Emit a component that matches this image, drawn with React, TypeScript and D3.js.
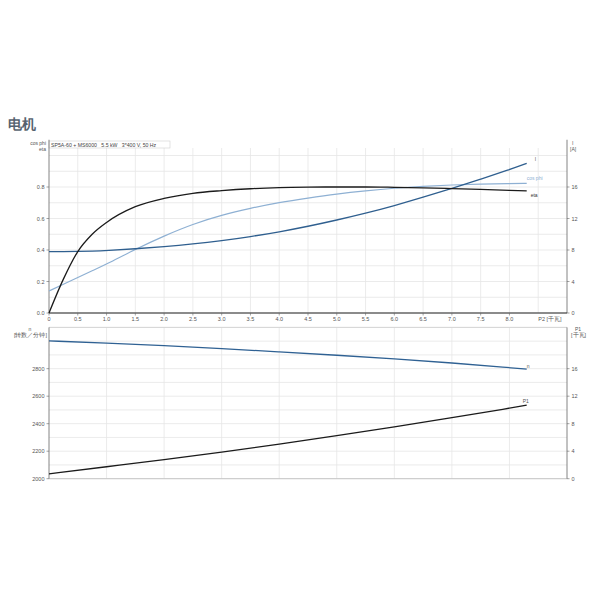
import React from "react";
import * as d3 from "d3";

// ---- data ----
const p2Top = [0, 0.25, 0.5, 0.75, 1.0, 1.5, 2.0, 2.5, 3.0, 3.5, 4.0, 4.5, 5.0, 5.5, 6.0, 6.5, 7.0, 7.5, 8.0, 8.3];
const etaValues = [0, 0.215, 0.39, 0.5, 0.575, 0.675, 0.728, 0.76, 0.777, 0.789, 0.796, 0.799, 0.8, 0.8, 0.798, 0.795, 0.79, 0.785, 0.779, 0.776];
const cosPhiValues = [0.14, 0.182, 0.225, 0.268, 0.31, 0.405, 0.49, 0.565, 0.622, 0.665, 0.702, 0.73, 0.756, 0.776, 0.793, 0.805, 0.813, 0.819, 0.822, 0.823];
const currentValues = [7.8, 7.8, 7.82, 7.86, 7.93, 8.15, 8.42, 8.76, 9.18, 9.69, 10.3, 11.0, 11.8, 12.66, 13.63, 14.69, 15.83, 17.0, 18.2, 19.0];

const p2Bottom = [0, 1, 2, 3, 4, 5, 6, 7, 8, 8.3];
const speedValues = [3002, 2986, 2968, 2946, 2922, 2898, 2872, 2842, 2808, 2796];
const p1Values = [0.7, 1.74, 2.76, 3.85, 5.02, 6.25, 7.52, 8.87, 10.25, 10.7];

const xTicks = [0, 0.5, 1, 1.5, 2, 2.5, 3, 3.5, 4, 4.5, 5, 5.5, 6, 6.5, 7, 7.5, 8];
const xTickLabels = ["0", "0.5", "1.0", "1.5", "2.0", "2.5", "3.0", "3.5", "4.0", "4.5", "5.0", "5.5", "6.0", "6.5", "7.0", "7.5", "8.0"];
const leftTopTicks = [0, 0.2, 0.4, 0.6, 0.8];
const rightTicks = [0, 4, 8, 12, 16];
const leftBottomTicks = [2000, 2200, 2400, 2600, 2800];

const titleText = "电机";
const boxText = "SP5A-60 + MS6000   5.5 kW   3*400 V, 50 Hz";

const FONT = "'Liberation Sans', Arial, sans-serif";
const TICK_COLOR = "#555";
const GRID = "#e6e6e6";
const AXIS = "#666";

export default function App() {
  const left = 49;
  const right = 567;
  const x = d3.scaleLinear().domain([0, 9]).range([left, right]);

  // top chart
  const topY0 = 313;
  const topY1 = 139.75;
  const yL = d3.scaleLinear().domain([0, 1.1]).range([topY0, topY1]);
  const yR = d3.scaleLinear().domain([0, 22]).range([topY0, topY1]);

  // bottom chart
  const botY0 = 478.7;
  const botY1 = 327.4;
  const yN = d3.scaleLinear().domain([2000, 3100]).range([botY0, botY1]);
  const yP = d3.scaleLinear().domain([0, 22]).range([botY0, botY1]);

  const mk = (xs: number[], ys: number[], ys2: (v: number) => number, curve: d3.CurveFactory) =>
    d3
      .line<number>()
      .x((_, i) => x(xs[i]))
      .y((v) => ys2(v))
      .curve(curve)(ys) as string;

  const etaPath = mk(p2Top, etaValues, yL, d3.curveMonotoneX);
  const cosPath = mk(p2Top, cosPhiValues, yL, d3.curveBasis);
  const iPath = mk(p2Top, currentValues, yR, d3.curveBasis);
  const nPath = mk(p2Bottom, speedValues, yN, d3.curveBasis);
  const p1Path = mk(p2Bottom, p1Values, yP, d3.curveBasis);

  const topGridY = d3.range(0, 11).map((i) => i * 0.1);
  const botGridY = d3.range(2000, 3101, 100);
  const topGridX = d3.range(0.5, 9, 0.5);
  const botGridX = d3.range(1, 9, 1);

  const last = p2Top.length - 1;
  const lastB = p2Bottom.length - 1;
  const fs = 5.5;

  return (
    <svg width={600} height={600} style={{ display: "block", position: "absolute", left: 0, top: 0 }} fontFamily={FONT}>
      <rect x={0} y={0} width={600} height={600} fill="#fff" />
      <text x={8} y={129} fontSize={14} fontWeight="bold" fill="#56626f">
        {titleText}
      </text>

      {/* ---- top chart grid ---- */}
      {topGridY.map((v) => (
        <line key={"tg" + v} x1={left} x2={right} y1={yL(v)} y2={yL(v)} stroke={GRID} strokeWidth={0.8} />
      ))}
      {topGridX.map((v) => (
        <line key={"tgx" + v} x1={x(v)} x2={x(v)} y1={topY0} y2={148} stroke={GRID} strokeWidth={0.8} />
      ))}

      {/* ---- bottom chart grid ---- */}
      {botGridY.map((v) => (
        <line key={"bg" + v} x1={left} x2={right} y1={yN(v)} y2={yN(v)} stroke={GRID} strokeWidth={0.8} />
      ))}
      {botGridX.map((v) => (
        <line key={"bgx" + v} x1={x(v)} x2={x(v)} y1={botY0} y2={botY1} stroke={GRID} strokeWidth={0.8} />
      ))}
      <line x1={left} x2={right} y1={botY1} y2={botY1} stroke="#cfcfcf" strokeWidth={0.8} />
      <line x1={left} x2={right} y1={botY0} y2={botY0} stroke="#bbb" strokeWidth={0.8} />

      {/* ---- title box ---- */}
      <rect x={left} y={141} width={121} height={7} fill="#fff" stroke="#cfcfcf" strokeWidth={0.6} />
      <text x={51} y={146.6} fontSize={5.2} fill="#444" style={{ whiteSpace: "pre" }}>
        {boxText}
      </text>

      {/* ---- top axes ---- */}
      <line x1={left} x2={left} y1={topY1} y2={topY0} stroke={AXIS} strokeWidth={0.8} />
      <line x1={right} x2={right} y1={topY1} y2={topY0} stroke={AXIS} strokeWidth={0.8} />
      <line x1={left} x2={right} y1={topY0} y2={topY0} stroke="#222" strokeWidth={1.2} />
      {leftTopTicks.map((v) => (
        <g key={"lt" + v}>
          <line x1={left - 2.5} x2={left} y1={yL(v)} y2={yL(v)} stroke={AXIS} strokeWidth={0.6} />
          <text x={left - 4.5} y={yL(v) + 2} fontSize={fs} textAnchor="end" fill={TICK_COLOR}>
            {v.toFixed(1)}
          </text>
        </g>
      ))}
      {rightTicks.map((v) => (
        <g key={"rt" + v}>
          <line x1={right} x2={right + 2.5} y1={yR(v)} y2={yR(v)} stroke={AXIS} strokeWidth={0.6} />
          <text x={right + 4.5} y={yR(v) + 2} fontSize={fs} textAnchor="start" fill={TICK_COLOR}>
            {v}
          </text>
        </g>
      ))}
      {xTicks.map((v, i) => (
        <g key={"xt" + v}>
          <line x1={x(v)} x2={x(v)} y1={topY0} y2={topY0 + 2.5} stroke={AXIS} strokeWidth={0.6} />
          <text x={x(v)} y={topY0 + 8} fontSize={fs} textAnchor="middle" fill={TICK_COLOR}>
            {xTickLabels[i]}
          </text>
        </g>
      ))}
      <text x={x(8.5)} y={topY0 + 8} fontSize={fs} textAnchor="start" fill={TICK_COLOR}>
        P2 [千瓦]
      </text>
      <text x={left - 3} y={145} fontSize={5} textAnchor="end" fill={TICK_COLOR}>
        cos phi
      </text>
      <text x={left - 3} y={151} fontSize={5} textAnchor="end" fill={TICK_COLOR}>
        eta
      </text>
      <text x={right + 5} y={145} fontSize={5} textAnchor="start" fill={TICK_COLOR}>
        I
      </text>
      <text x={right + 3} y={151} fontSize={5} textAnchor="start" fill={TICK_COLOR}>
        [A]
      </text>

      {/* ---- bottom axes ---- */}
      <line x1={left} x2={left} y1={botY1} y2={botY0} stroke={AXIS} strokeWidth={0.8} />
      <line x1={right} x2={right} y1={botY1} y2={botY0} stroke={AXIS} strokeWidth={0.8} />
      {leftBottomTicks.map((v) => (
        <g key={"lb" + v}>
          <line x1={left - 2.5} x2={left} y1={yN(v)} y2={yN(v)} stroke={AXIS} strokeWidth={0.6} />
          <text x={left - 4.5} y={yN(v) + 2} fontSize={fs} textAnchor="end" fill={TICK_COLOR}>
            {v}
          </text>
        </g>
      ))}
      {rightTicks.map((v) => (
        <g key={"rb" + v}>
          <line x1={right} x2={right + 2.5} y1={yP(v)} y2={yP(v)} stroke={AXIS} strokeWidth={0.6} />
          <text x={right + 4.5} y={yP(v) + 2} fontSize={fs} textAnchor="start" fill={TICK_COLOR}>
            {v}
          </text>
        </g>
      ))}
      <text x={30} y={331} fontSize={5} textAnchor="middle" fill={TICK_COLOR}>
        n
      </text>
      <text x={47} y={337} fontSize={5.5} textAnchor="end" fill={TICK_COLOR}>
        [转数／分钟]
      </text>
      <text x={575} y={331} fontSize={5} textAnchor="start" fill={TICK_COLOR}>
        P1
      </text>
      <text x={571} y={337} fontSize={5.5} textAnchor="start" fill={TICK_COLOR}>
        [千瓦]
      </text>

      {/* ---- curves ---- */}
      <path d={cosPath} fill="none" stroke="#8eb0d3" strokeWidth={1.2} />
      <path d={iPath} fill="none" stroke="#2f5f8f" strokeWidth={1.3} />
      <path d={etaPath} fill="none" stroke="#1b1b1b" strokeWidth={1.3} />
      <path d={nPath} fill="none" stroke="#2f6193" strokeWidth={1.3} />
      <path d={p1Path} fill="none" stroke="#1b1b1b" strokeWidth={1.3} />

      {/* ---- curve labels ---- */}
      <text x={x(p2Top[last]) + 8} y={yR(currentValues[last]) - 2} fontSize={5} fill="#555">
        I
      </text>
      <text x={x(p2Top[last])} y={yL(cosPhiValues[last]) - 3} fontSize={5} fill="#8eb0d3">
        cos phi
      </text>
      <text x={x(p2Top[last]) + 4} y={yL(etaValues[last]) + 6} fontSize={5} fill="#333">
        eta
      </text>
      <text x={x(p2Bottom[lastB])} y={yN(speedValues[lastB]) - 1.5} fontSize={5} fill="#555">
        n
      </text>
      <text x={x(p2Bottom[lastB]) - 4} y={yP(p1Values[lastB]) - 2} fontSize={5} fill="#555">
        P1
      </text>
    </svg>
  );
}
